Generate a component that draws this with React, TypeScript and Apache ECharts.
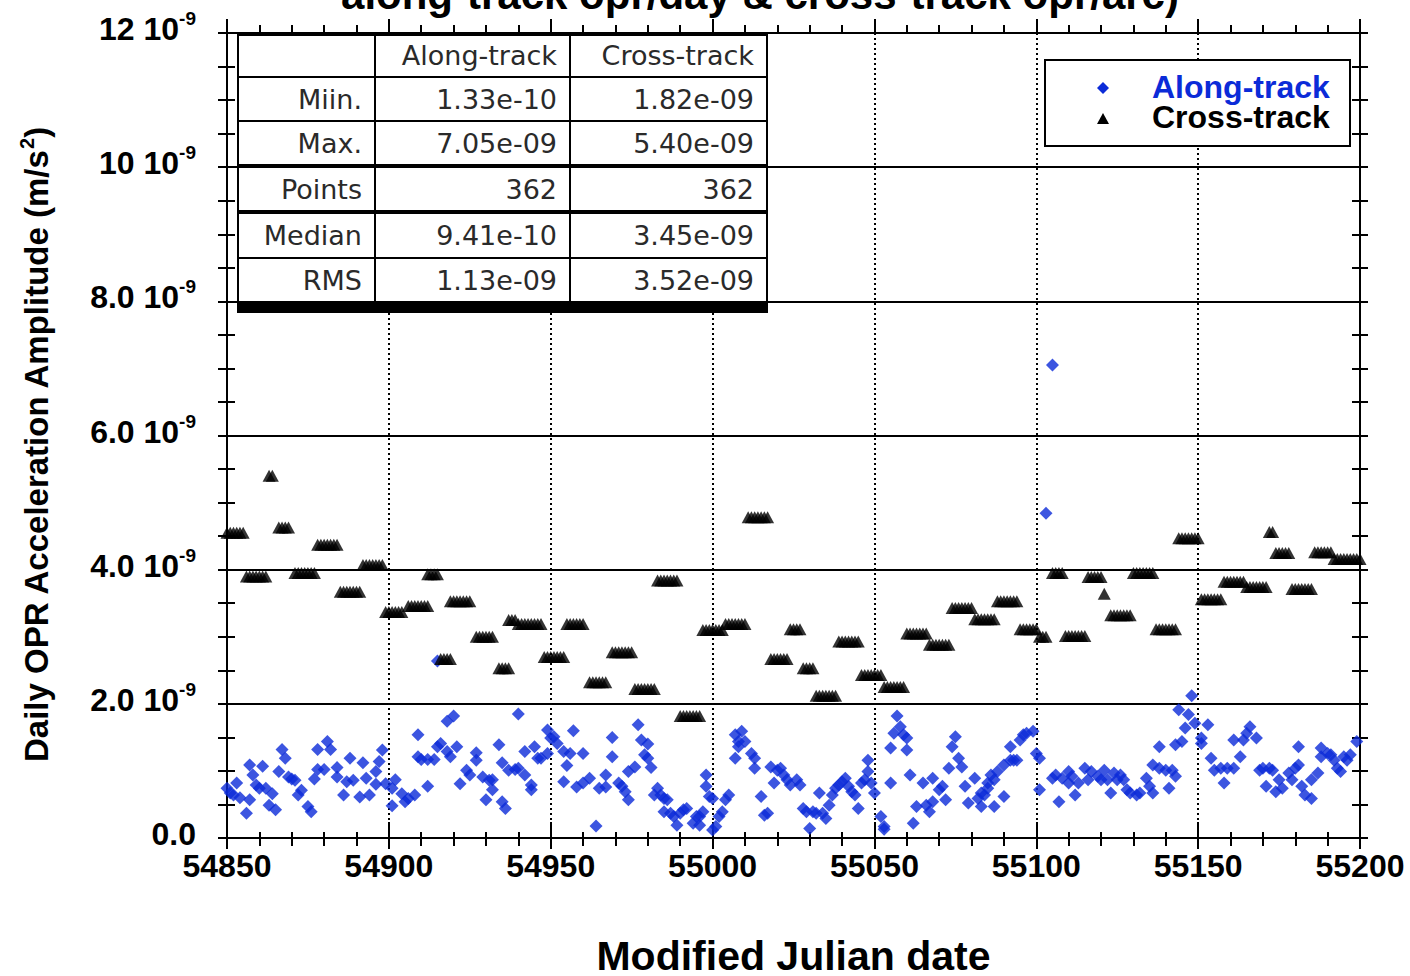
import React, { useEffect, useRef } from 'react';
import * as echarts from 'echarts';

// ---------- data ----------
const MJD_START = 54850;
const X_MIN = 54850;
const X_MAX = 55200;
const X_INTERVAL = 50;
const Y_MIN = 0;
const Y_MAX = 12; // units of 1e-9 m/s^2
const Y_INTERVAL = 2;
const Y_TICK_LABELS = ['0.0', '2.0', '4.0', '6.0', '8.0', '10', '12'];
const Y_EXPONENT = '-9';

// along-track (opr/day): [day offset from MJD_START, amplitude in 1e-9 m/s^2]
const ALONG_TRACK: [number, number][] = [
  [0, 0.74], [1, 0.67], [2, 0.64], [3, 0.82], [4, 0.6], [6, 0.37], [7, 0.57], [7, 1.09], [8, 0.94], [9, 0.79],
  [10, 0.74], [11, 1.07], [12, 0.74], [13, 0.49], [14, 0.66], [15, 0.42], [16, 0.99], [17, 1.32], [18, 1.19], [19, 0.91],
  [20, 0.88], [21, 0.86], [22, 0.64], [23, 0.71], [25, 0.47], [26, 0.39], [27, 0.88], [28, 1.02], [28, 1.32], [30, 1.02],
  [31, 1.44], [32, 1.32], [34, 1.05], [34, 0.91], [36, 0.64], [37, 0.84], [38, 1.19], [39, 0.86], [41, 0.61], [42, 1.12],
  [43, 0.89], [44, 0.64], [46, 0.8], [46, 0.99], [47, 1.14], [48, 1.31], [49, 0.81], [51, 0.74], [51, 0.48], [52, 0.87],
  [54, 0.66], [55, 0.54], [56, 0.59], [58, 0.64], [59, 1.21], [59, 1.54], [60, 1.17], [62, 0.77], [62, 1.17], [64, 1.17],
  [65, 1.36], [65, 2.64], [66, 1.41], [68, 1.29], [68, 1.74], [69, 1.21], [70, 1.82], [71, 1.36], [72, 0.81], [74, 1.01],
  [75, 0.94], [77, 1.27], [77, 1.16], [79, 0.91], [80, 0.57], [81, 0.86], [82, 0.72], [82, 0.87], [84, 1.39], [85, 1.12],
  [85, 0.54], [86, 0.44], [87, 1.01], [89, 1.02], [90, 1.85], [90, 1.04], [92, 1.29], [92, 0.94], [94, 0.79], [94, 0.72],
  [95, 1.36], [96, 1.19], [97, 1.19], [99, 1.61], [99, 1.26], [100, 1.49], [101, 1.51], [102, 1.41], [104, 0.84], [104, 1.29],
  [105, 1.08], [106, 1.26], [107, 1.6], [108, 0.76], [110, 0.82], [110, 1.26], [112, 0.89], [114, 0.18], [115, 0.74], [117, 0.94],
  [117, 0.76], [119, 1.21], [119, 1.5],
  [121, 0.82], [122, 0.77], [123, 0.69], [124, 0.57], [124, 0.99], [126, 1.06], [127, 1.69], [128, 1.46], [129, 1.24], [130, 1.19],
  [130, 1.4], [131, 1.05], [132, 0.64], [133, 0.74], [134, 0.64], [135, 0.59], [135, 0.39], [136, 0.57], [137, 0.37], [138, 0.32],
  [139, 0.19], [140, 0.37], [141, 0.42], [142, 0.44], [144, 0.22], [145, 0.32], [146, 0.19], [146, 0.32], [147, 0.39], [148, 0.94],
  [148, 0.77], [149, 0.62], [150, 0.59], [150, 0.12], [151, 0.17], [152, 0.32], [153, 0.39], [154, 0.57], [155, 0.64], [157, 1.19],
  [157, 1.54], [158, 1.36], [158, 1.44], [159, 1.59], [160, 1.44], [162, 1.26], [163, 1.19], [163, 1.04], [165, 0.62], [166, 0.34],
  [167, 0.37], [168, 1.06], [169, 0.82], [170, 1.01], [171, 1.04], [172, 0.94], [173, 0.87], [174, 0.79], [176, 0.87], [177, 0.79],
  [178, 0.44], [179, 0.39], [180, 0.14], [181, 0.39], [182, 0.37], [183, 0.67], [184, 0.37], [185, 0.29], [186, 0.49], [187, 0.64],
  [188, 0.74], [189, 0.79], [190, 0.84], [191, 0.89], [192, 0.77], [193, 0.69], [194, 0.64], [195, 0.44], [196, 0.82], [197, 0.87],
  [198, 1.16], [198, 0.99], [199, 0.82], [200, 0.67], [202, 0.32], [203, 0.17], [203, 0.13], [205, 0.82], [205, 1.34], [206, 1.56],
  [207, 1.82], [208, 1.66], [209, 1.54], [210, 1.49], [210, 1.31], [211, 0.94], [212, 0.22], [213, 0.47], [215, 0.82], [216, 0.49],
  [217, 0.39], [218, 0.89], [218, 0.54], [220, 0.72], [221, 0.77], [222, 0.57], [223, 1.04], [224, 1.36], [225, 1.51], [226, 1.19],
  [227, 1.06], [228, 0.77], [229, 0.52], [231, 0.89], [232, 0.59],
  [233, 0.67], [233, 0.47], [234, 0.64], [235, 0.82], [235, 0.74], [236, 0.94], [237, 0.87], [237, 0.47], [238, 0.99], [240, 0.62],
  [240, 1.09], [242, 1.16], [242, 1.36], [243, 1.16], [244, 1.16], [245, 1.46], [246, 1.54], [247, 1.56], [249, 1.59], [250, 1.26],
  [251, 1.19], [251, 0.72], [253, 4.84], [255, 7.05], [255, 0.89], [256, 0.94], [257, 0.54], [258, 0.89], [260, 0.99], [260, 0.82],
  [261, 0.92], [262, 0.64], [263, 0.82], [265, 1.04], [266, 0.87], [267, 0.99], [269, 0.92], [270, 0.87], [271, 1.01], [272, 0.87],
  [273, 0.67], [274, 0.97], [275, 0.87], [276, 0.94], [277, 0.87], [278, 0.72], [279, 0.67], [281, 0.64], [282, 0.67], [284, 0.89],
  [285, 0.77], [286, 0.67], [286, 1.09], [288, 1.36], [288, 1.04], [290, 1.01], [291, 0.74], [292, 1.01], [293, 0.92], [293, 1.39],
  [294, 1.91], [295, 1.44], [296, 1.64], [297, 1.84], [298, 2.12], [299, 1.71], [301, 1.41], [301, 1.49], [303, 1.69], [304, 1.19],
  [305, 1.01], [307, 1.04], [308, 0.82], [309, 1.04], [311, 1.04], [311, 1.46], [313, 1.21], [314, 1.46], [315, 1.56], [316, 1.66],
  [318, 1.49], [319, 1.01], [320, 1.04], [321, 0.77], [322, 1.04], [323, 1.01], [324, 0.69], [325, 0.87], [326, 0.74], [328, 0.97],
  [329, 0.87], [330, 1.04], [331, 1.36], [331, 1.09], [332, 0.77], [333, 0.64], [335, 0.59], [335, 0.87], [337, 0.97], [338, 1.21],
  [338, 1.34], [340, 1.26], [341, 1.24], [342, 1.16], [343, 1.04], [344, 0.99], [345, 1.21], [346, 1.16], [347, 1.24], [349, 1.44],
];

// cross-track (opr/arc): one constant value per arc, [first day, last day, amplitude 1e-9]
const CROSS_TRACK_ARCS: [number, number, number][] = [
  [0, 5, 4.55], [6, 12, 3.9], [13, 14, 5.4], [16, 19, 4.63], [21, 27, 3.95], [28, 34, 4.37], [35, 41, 3.67],
  [42, 48, 4.07], [49, 54, 3.37], [56, 62, 3.46], [62, 65, 3.93], [66, 69, 2.67], [69, 75, 3.53], [77, 82, 3.0],
  [84, 87, 2.53], [87, 89, 3.25], [90, 97, 3.19], [98, 104, 2.7], [105, 110, 3.19], [112, 117, 2.32], [119, 125, 2.77],
  [126, 132, 2.22], [133, 139, 3.84], [140, 146, 1.82], [147, 153, 3.1], [154, 160, 3.19], [161, 167, 4.78], [168, 173, 2.67],
  [174, 177, 3.11], [178, 181, 2.53], [182, 188, 2.12], [189, 195, 2.93], [196, 202, 2.43], [203, 209, 2.25], [210, 216, 3.05],
  [217, 223, 2.88], [224, 230, 3.43], [231, 237, 3.26], [238, 244, 3.53], [245, 250, 3.11], [251, 253, 3.0], [255, 258, 3.95],
  [259, 265, 3.01], [266, 270, 3.89], [271, 271, 3.64], [273, 279, 3.32], [280, 286, 3.95], [287, 293, 3.11], [294, 300, 4.47],
  [301, 307, 3.56], [308, 314, 3.82], [315, 321, 3.74], [322, 323, 4.56], [324, 328, 4.25], [329, 335, 3.71], [336, 341, 4.26],
  [342, 350, 4.16],
];

const SERIES_NAMES = ['Along-track', 'Cross-track'];
const TABLE_HEADER = ['', 'Along-track', 'Cross-track'];
const TABLE_ROWS = [
  ['Miin.', '1.33e-10', '1.82e-09'],
  ['Max.', '7.05e-09', '5.40e-09'],
  ['Points', '362', '362'],
  ['Median', '9.41e-10', '3.45e-09'],
  ['RMS', '1.13e-09', '3.52e-09'],
];
const TITLE_TEXT = 'along-track opr/day & cross-track opr/arc)';
const X_NAME = 'Modified Julian date';
const Y_NAME = 'Daily OPR Acceleration Amplitude (m/s';
const Y_NAME_SUP = '2';

// ---------- styles ----------
const BLUE = '#0b2bd8';
const BLACK = '#000';
const SANS = '"Liberation Sans", Arial, Helvetica, sans-serif';
const TABLE_FONT = '"DejaVu Sans", Verdana, sans-serif';

const GRID = { left: 227, right: 50, top: 33, bottom: 138, containLabel: false, outerBoundsMode: 'none' };

function tick(len: number, inside: boolean) {
  return { show: true, inside, length: len, lineStyle: { color: BLACK, width: 2 } };
}

export default function App() {
  const ref = useRef<HTMLDivElement>(null);

  useEffect(() => {
    if (!ref.current) return;
    const chart = echarts.init(ref.current, undefined, { renderer: 'svg' });

    const alongData = ALONG_TRACK.map(([d, v]) => [MJD_START + d, v]);
    const crossData: number[][] = [];
    CROSS_TRACK_ARCS.forEach(([s, e, v]) => {
      for (let d = s; d <= e; d++) crossData.push([MJD_START + d, v]);
    });

    const xBase = { type: 'value', min: X_MIN, max: X_MAX, interval: X_INTERVAL };
    const yBase = { type: 'value', min: Y_MIN, max: Y_MAX, interval: Y_INTERVAL };
    const noLabel = { show: false };
    const noSplit = { show: false };
    const Z = 100;

    // table graphics
    const colX = [238, 375, 570, 767];
    const rowY = [35, 77, 121, 166, 212, 258, 302];
    const tableEls: any[] = [];
    tableEls.push({ type: 'rect', z: Z, shape: { x: colX[0], y: rowY[0], width: colX[3] - colX[0], height: rowY[6] - rowY[0] }, style: { fill: '#fff', stroke: BLACK, lineWidth: 2 } });
    [colX[1], colX[2]].forEach((x) => tableEls.push({ type: 'line', z: Z + 1, shape: { x1: x, y1: rowY[0], x2: x, y2: rowY[6] }, style: { stroke: BLACK, lineWidth: 2 } }));
    const rowLineW = [2, 2, 4, 4, 2];
    rowY.slice(1, 6).forEach((y, i) => tableEls.push({ type: 'line', z: Z + 1, shape: { x1: colX[0], y1: y, x2: colX[3], y2: y }, style: { stroke: BLACK, lineWidth: rowLineW[i] } }));
    tableEls.push({ type: 'rect', z: Z + 1, shape: { x: colX[0] - 1, y: rowY[6], width: colX[3] - colX[0] + 2, height: 11 }, style: { fill: BLACK } });
    const allRows = [TABLE_HEADER, ...TABLE_ROWS];
    allRows.forEach((row, r) => {
      const cy = (rowY[r] + rowY[r + 1]) / 2 + (r === 0 ? -1 : 0);
      row.forEach((txt, c) => {
        if (!txt) return;
        tableEls.push({
          type: 'text',
          z: Z + 2,
          x: colX[c + 1] - 13,
          y: cy,
          style: { text: txt, fill: '#2a2a2a', font: `27px ${TABLE_FONT}`, align: 'right', verticalAlign: 'middle' },
        });
      });
    });

    const legendEls: any[] = [
      { type: 'rect', z: Z, shape: { x: 1045, y: 60, width: 305, height: 86 }, style: { fill: '#fff', stroke: BLACK, lineWidth: 2 } },
      { type: 'polygon', z: Z + 1, shape: { points: [[1103, 82], [1109, 88], [1103, 94], [1097, 88]] }, style: { fill: BLUE } },
      { type: 'polygon', z: Z + 1, shape: { points: [[1103, 113], [1109, 124], [1097, 124]] }, style: { fill: BLACK } },
      { type: 'text', z: Z + 1, x: 1152, y: 87, style: { text: SERIES_NAMES[0], fill: BLUE, font: `bold 32px ${SANS}`, lineHeight: 28, align: 'left', verticalAlign: 'middle' } },
      { type: 'text', z: Z + 1, x: 1152, y: 117, style: { text: SERIES_NAMES[1], fill: BLACK, font: `bold 32px ${SANS}`, lineHeight: 28, align: 'left', verticalAlign: 'middle' } },
    ];

    const option: any = {
      animation: false,
      backgroundColor: '#fff',
      grid: [{ ...GRID }, { ...GRID }],
      xAxis: [
        {
          ...xBase, gridIndex: 0, position: 'bottom',
          axisLine: { show: true, onZero: false, lineStyle: { color: BLACK, width: 2 } },
          axisTick: tick(11, false),
          minorTick: { show: true, splitNumber: 5, length: 8, lineStyle: { color: BLACK, width: 2 } },
          axisLabel: { show: true, margin: 12, color: BLACK, fontSize: 32, fontWeight: 'bold', fontFamily: SANS, formatter: (v: number) => String(v) },
          splitLine: { show: true, lineStyle: { color: BLACK, width: 2, type: [2, 3] } },
          name: X_NAME, nameLocation: 'middle', nameGap: 101,
          nameTextStyle: { color: BLACK, fontSize: 41, fontWeight: 'bold', fontFamily: SANS, lineHeight: 34 },
        },
        {
          ...xBase, gridIndex: 0, position: 'top',
          axisLine: { show: true, onZero: false, lineStyle: { color: BLACK, width: 2 } },
          axisTick: tick(14, false),
          minorTick: { show: true, splitNumber: 5, length: 8, lineStyle: { color: BLACK, width: 2 } },
          axisLabel: noLabel, splitLine: noSplit,
        },
        {
          ...xBase, gridIndex: 1, position: 'bottom',
          axisLine: { show: false, onZero: false },
          axisTick: tick(16, true),
          minorTick: { show: true, splitNumber: 5, length: 6, lineStyle: { color: BLACK, width: 2 } },
          axisLabel: noLabel, splitLine: noSplit,
        },
      ],
      yAxis: [
        {
          ...yBase, gridIndex: 0, position: 'left',
          axisLine: { show: true, onZero: false, lineStyle: { color: BLACK, width: 2 } },
          axisTick: tick(9, false),
          minorTick: { show: true, splitNumber: 4, length: 9, lineStyle: { color: BLACK, width: 2 } },
          axisLabel: {
            show: true, margin: 31, padding: [0, 0, 8, 0],
            formatter: (v: number) => {
              const t = Y_TICK_LABELS[Math.round(v / Y_INTERVAL)];
              return v === 0 ? `{m|${t}}` : `{m|${t} 10}{e|${Y_EXPONENT}}`;
            },
            rich: {
              m: { fontSize: 32, fontWeight: 'bold', fontFamily: SANS, color: BLACK, lineHeight: 40 },
              e: { fontSize: 19, fontWeight: 'bold', fontFamily: SANS, color: BLACK, lineHeight: 20, verticalAlign: 'top' },
            },
          },
          splitLine: { show: true, lineStyle: { color: BLACK, width: 2, type: 'solid' } },
        },
        {
          ...yBase, gridIndex: 0, position: 'right',
          axisLine: { show: true, onZero: false, lineStyle: { color: BLACK, width: 2 } },
          axisTick: tick(8, false),
          minorTick: { show: true, splitNumber: 4, length: 8, lineStyle: { color: BLACK, width: 2 } },
          axisLabel: noLabel, splitLine: noSplit,
        },
        {
          ...yBase, gridIndex: 1, position: 'left',
          axisLine: { show: false, onZero: false },
          axisTick: tick(8, true),
          minorTick: { show: true, splitNumber: 4, length: 8, lineStyle: { color: BLACK, width: 2 } },
          axisLabel: noLabel, splitLine: noSplit,
        },
        {
          ...yBase, gridIndex: 1, position: 'right',
          axisLine: { show: false, onZero: false },
          axisTick: tick(8, true),
          minorTick: { show: true, splitNumber: 4, length: 8, lineStyle: { color: BLACK, width: 2 } },
          axisLabel: noLabel, splitLine: noSplit,
        },
      ],
      series: [
        {
          name: SERIES_NAMES[0], type: 'scatter', xAxisIndex: 0, yAxisIndex: 0, clip: false,
          symbol: 'diamond', symbolSize: 13, itemStyle: { color: BLUE }, data: alongData, z: 3,
        },
        {
          name: SERIES_NAMES[1], type: 'scatter', xAxisIndex: 0, yAxisIndex: 0, clip: false,
          symbol: 'triangle', symbolSize: [13, 12], itemStyle: { color: BLACK }, data: crossData, z: 4,
        },
      ],
      graphic: {
        elements: [
          {
            type: 'text', x: 760, y: -6, z: Z,
            style: { text: TITLE_TEXT, fill: BLACK, font: `bold 42px ${SANS}`, align: 'center', verticalAlign: 'middle' },
          },
          {
            type: 'text', x: 36, y: 445, rotation: Math.PI / 2, z: Z,
            style: {
              text: `{b|${Y_NAME}}{s|${Y_NAME_SUP}}{b|)}`,
              align: 'center', verticalAlign: 'middle',
              rich: {
                b: { fontSize: 33, fontWeight: 'bold', fontFamily: SANS, fill: BLACK, lineHeight: 38 },
                s: { fontSize: 20, fontWeight: 'bold', fontFamily: SANS, fill: BLACK, lineHeight: 20, verticalAlign: 'top' },
              },
            },
          },
          { type: 'group', z: Z, children: tableEls },
          { type: 'group', z: Z, children: legendEls },
        ],
      },
    };

    chart.setOption(option);
    return () => chart.dispose();
  }, []);

  return <div ref={ref} style={{ position: 'absolute', left: 0, top: 0, width: 1410, height: 976 }} />;
}
